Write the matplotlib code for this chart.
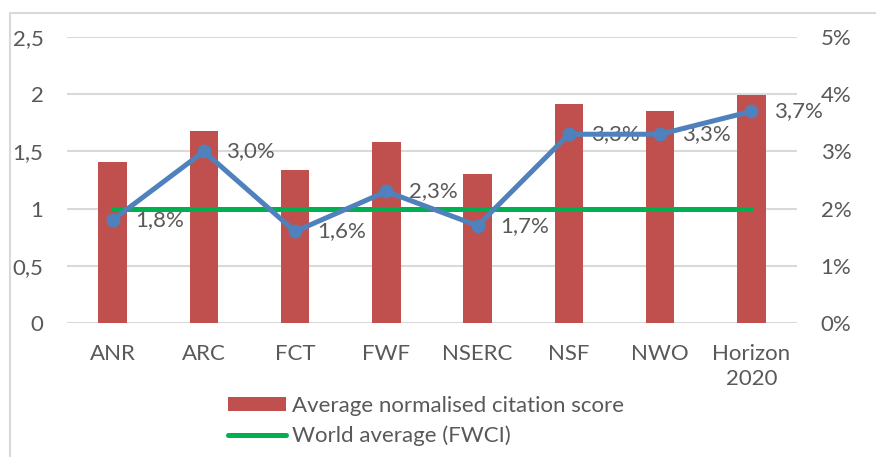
import matplotlib
matplotlib.use('Agg')
from matplotlib import pyplot as plt
from matplotlib.patches import Rectangle
from matplotlib.ticker import FuncFormatter


FUNDERS = ['ANR', 'ARC', 'FCT', 'FWF', 'NSERC', 'NSF', 'NWO', 'Horizon\n2020']
CITATION_SCORE = [1.41, 1.68, 1.34, 1.58, 1.30, 1.91, 1.85, 1.99]
WORLD_AVG = [1, 1, 1, 1, 1, 1, 1, 1]
SHARE = [0.018, 0.030, 0.016, 0.023, 0.017, 0.033, 0.033, 0.037]

BAR_COLOR = '#C0504D'
LINE_COLOR = '#4F81BD'
GREEN = '#00B050'
TEXT = '#595959'
GRID = '#D9D9D9'
FS = 16


def comma(v, fmt):
	return fmt.format(v).replace('.', ',')


def main():
	plt.rcParams['font.family'] = ['Lato', 'DejaVu Sans']
	plt.rcParams['font.size'] = FS

	fig = plt.figure(figsize=(8.76, 4.57), dpi=100)
	# outer chart frame
	fig.patches.append(Rectangle((10 / 876, -0.1), 1.2, 1.1 - 13 / 457,
		transform=fig.transFigure, fill=False, edgecolor=GRID, linewidth=1.5))

	ax = fig.add_axes([67 / 876, 1 - 323 / 457, 730 / 876, 286 / 457])
	x = list(range(len(FUNDERS)))

	bars = ax.bar(x, CITATION_SCORE, width=0.31, color=BAR_COLOR, zorder=2)
	green, = ax.plot(x, WORLD_AVG, color=GREEN, linewidth=3.6,
		solid_capstyle='round', zorder=3)

	ax.set_xlim(-0.5, len(FUNDERS) - 0.5)
	ax.set_ylim(0, 2.5)
	ax.set_yticks([0, 0.5, 1, 1.5, 2, 2.5])
	ax.yaxis.set_major_formatter(FuncFormatter(lambda v, p: comma(v, '{:g}')))
	ax.set_xticks(x)
	ax.set_xticklabels(FUNDERS, linespacing=1.35)
	ax.grid(axis='y', color=GRID, linewidth=1.5, zorder=0)
	ax.set_axisbelow(True)
	for s in ax.spines.values():
		s.set_visible(False)
	ax.tick_params(length=0, colors=TEXT, labelsize=FS)
	ax.tick_params(axis='y', pad=17)
	ax.tick_params(axis='x', pad=15)

	ax2 = ax.twinx()
	ax2.plot(x, SHARE, color=LINE_COLOR, linewidth=3.6, marker='o',
		markersize=9, zorder=4)
	for xi, v in zip(x, SHARE):
		ax2.annotate(comma(v * 100, '{:.1f}') + '%', (xi, v), xytext=(16, 0),
			textcoords='offset points', ha='left', va='center',
			color=TEXT, fontsize=FS)
	ax2.set_ylim(0, 0.05)
	ax2.set_yticks([0, 0.01, 0.02, 0.03, 0.04, 0.05])
	ax2.yaxis.set_major_formatter(FuncFormatter(lambda v, p: '{:.0f}%'.format(v * 100)))
	for s in ax2.spines.values():
		s.set_visible(False)
	ax2.tick_params(length=0, colors=TEXT, labelsize=FS, pad=17)

	leg = ax.legend([bars, green],
		['Average normalised citation score', 'World average (FWCI)'],
		loc='upper left', bbox_to_anchor=(219 / 876, 1 - 387 / 457),
		bbox_transform=fig.transFigure, frameon=False, ncol=1,
		handlelength=2.6, handleheight=0.6, handletextpad=0.3,
		labelspacing=0.45, borderaxespad=0, fontsize=FS)
	for t in leg.get_texts():
		t.set_color(TEXT)

	fig.savefig('out.png', dpi=100)


main()
